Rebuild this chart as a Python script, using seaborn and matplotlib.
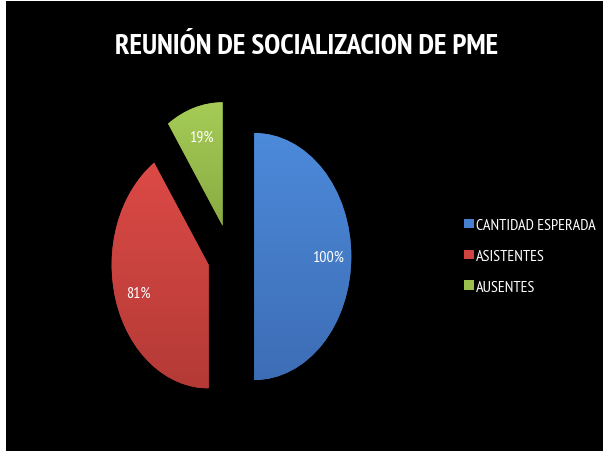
import matplotlib
matplotlib.use("Agg")
import matplotlib.pyplot as plt
from matplotlib.patches import Rectangle
from matplotlib.colors import LinearSegmentedColormap
import numpy as np
import seaborn as sns

# Meeting attendance figures
categories = ["CANTIDAD ESPERADA", "ASISTENTES", "AUSENTES"]
values = [100, 81, 19]
title = "REUNIÓN DE SOCIALIZACION DE PME"

sns.set_theme(style="white")
plt.rcParams["font.family"] = ["PT Sans Narrow", "DejaVu Sans"]

colors = sns.color_palette(["#4680CF", "#CF4440", "#9BBF4D"])
# top (light) and bottom (dark) shades for each slice
shades = [("#4C8ADA", "#3D6DB5"), ("#DC4A46", "#B43A36"), ("#A6CC57", "#89AB42")]

W, H, DPI = 603, 452, 100
fig = plt.figure(figsize=(W / DPI, H / DPI), dpi=DPI)
fig.patch.set_facecolor("white")
# black chart area with a thin white margin on the left and top
fig.patches.append(Rectangle((6 / W, 0), 1 - 6 / W, (H - 2) / H,
                             transform=fig.transFigure, facecolor="black",
                             edgecolor="none", zorder=-10))

ax = fig.add_axes([0, 0, 1, 1])
ax.set_facecolor("none")

total = sum(values)
wedges, _, pct_texts = ax.pie(
    values,
    explode=[0.25, 0.23, 0.26],
    colors=colors,
    startangle=90,
    counterclock=False,
    autopct=lambda p: f"{p * total / 100:.0f}%",
    pctdistance=0.76,
    textprops=dict(color="white", fontsize=11.5, zorder=5),
    wedgeprops=dict(linewidth=0),
)

# vertical light-to-dark shading clipped to each slice
grad = np.linspace(1, 0, 256).reshape(-1, 1)
for w, (top, bottom) in zip(wedges, shades):
    verts = w.get_path().vertices
    x0, y0 = verts.min(axis=0)
    x1, y1 = verts.max(axis=0)
    cmap = LinearSegmentedColormap.from_list("shade", [bottom, top])
    im = ax.imshow(grad, cmap=cmap, extent=(x0, x1, y0, y1), aspect="auto",
                   origin="upper", interpolation="bilinear", zorder=w.get_zorder() + 0.5)
    im.set_clip_path(w)

# stretched (elliptical) pie: 97 px per unit horizontally, 123.5 px vertically
sx, sy = 97.0, 123.5
cx_px, cy_px = 230.0, H - 257.5
ax.set_aspect("auto")
ax.set_xlim(-cx_px / sx, (W - cx_px) / sx)
ax.set_ylim(-cy_px / sy, (H - cy_px) / sy)
ax.axis("off")

fig.text(307 / W, 1 - 47 / H, title, color="white", fontsize=21,
         fontweight="bold", ha="center", va="center")

leg = ax.legend(
    wedges, categories,
    loc="center left",
    bbox_to_anchor=(458 / W, 1 - 257 / H),
    bbox_transform=fig.transFigure,
    frameon=False,
    fontsize=11.5,
    labelcolor="white",
    handlelength=0.6,
    handleheight=0.55,
    handletextpad=0.12,
    labelspacing=1.05,
    borderaxespad=0,
)

fig.savefig("out.png", dpi=DPI, facecolor=fig.get_facecolor())
